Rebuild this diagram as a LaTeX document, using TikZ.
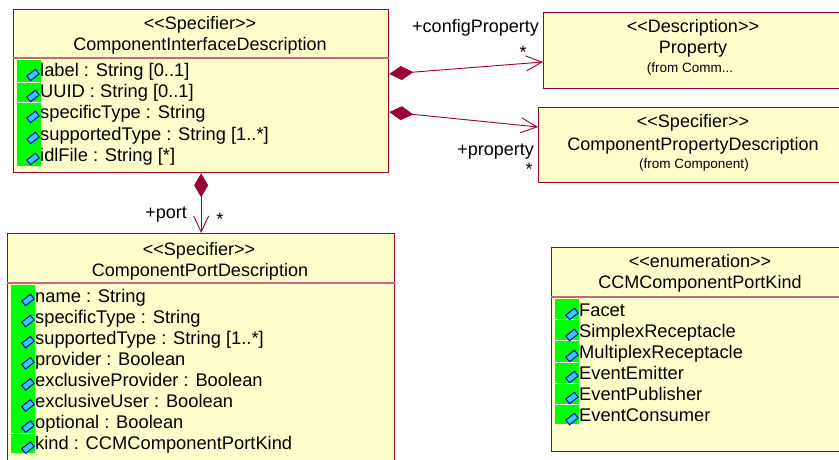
\documentclass[tikz,border=0pt]{standalone}
\usepackage{fontspec}
\setmainfont{Liberation Sans}
\usetikzlibrary{arrows.meta}
\definecolor{umlfill}{RGB}{255,255,204}
\definecolor{umlline}{RGB}{153,0,51}
\definecolor{umlsep}{RGB}{204,102,128}
\definecolor{attrgreen}{RGB}{0,255,0}
\definecolor{iconfill}{RGB}{51,204,255}
\definecolor{iconline}{RGB}{0,0,190}
\newcommand\stereo[1]{<\kern0pt<#1>\kern0pt>}
\tikzset{>=latex}

\begin{document}
\begin{tikzpicture}[x=1pt,y=-1pt,
  cls/.style={draw=umlline, fill=umlfill, line width=1.3pt, anchor=north west, inner sep=0pt},
  sepline/.style={draw=umlsep, line width=1.3pt},
  gap/.style={draw=white, line width=0.8pt},
  head/.style={font=\fontsize{18}{21}\selectfont, anchor=base, inner sep=0pt},
  from/.style={font=\fontsize{13.5}{15}\selectfont, anchor=base, inner sep=0pt},
  attr/.style={font=\fontsize{18.3}{21}\selectfont, anchor=base west, inner sep=0pt},
  icon/.style={draw=iconline, fill=iconfill, line width=1pt, minimum width=11pt, minimum height=6pt, inner sep=0pt, rotate=38},
  role/.style={font=\fontsize{18}{21}\selectfont, inner sep=0pt},
  comp/.style={draw=umlline, line width=0.9pt,
    {Diamond[length=24pt,width=14pt,sep=0pt]}-{Straight Barb[length=16pt,width=15pt,line width=0.9pt]}},
]
  \useasboundingbox (0,0) rectangle (839,460);
  \clip (0,0) rectangle (839,460);

  % classes
  \node[cls, minimum width=375pt, minimum height=163pt] (cid) at (13,9) {};
  \node[cls, minimum width=310pt, minimum height=76pt] (prop) at (543,12) {};
  \node[cls, minimum width=315pt, minimum height=75pt] (cpd) at (538,107) {};
  \node[cls, minimum width=387pt, minimum height=240pt] (port) at (7,233) {};
  \node[cls, minimum width=300pt, minimum height=204pt] (kind) at (551,247) {};
  \draw[sepline] ([yshift=-49pt]cid.north west) -- ([yshift=-49pt]cid.north east);
  \draw[sepline] ([yshift=-50pt]port.north west) -- ([yshift=-50pt]port.north east);
  \draw[sepline] ([yshift=-50pt]kind.north west) -- ([yshift=-50pt]kind.north east);

  % headers
  \node[head] (cid-st) at (200,30) {\stereo{Specifier}};
  \node[head] (cid-nm) at (200,51) {ComponentInterfaceDescription};
  \node[head] (prop-st) at (693,33) {\stereo{Description}};
  \node[head] (prop-nm) at (693,54) {Property};
  \node[from] (prop-fr) at (690,73) {(from Comm...};
  \node[head] (cpd-st) at (693,128) {\stereo{Specifier}};
  \node[head] (cpd-nm) at (693,150) {ComponentPropertyDescription};
  \node[from] (cpd-fr) at (694,168) {(from Component)};
  \node[head] (port-st) at (199,255) {\stereo{Specifier}};
  \node[head] (port-nm) at (200,276) {ComponentPortDescription};
  \node[head] (kind-st) at (700,267) {\stereo{enumeration}};
  \node[head] (kind-nm) at (700,288) {CCMComponentPortKind};

  % attribute strips
  \fill[attrgreen] (17,60) rectangle (41,166);
  \draw[gap] (17,82) -- (41,82) (17,102) -- (41,102);
  \fill[attrgreen] (11,285) rectangle (35,453);
  \draw[gap] (11,433) -- (35,433);
  \fill[attrgreen] (555,299) rectangle (579,424);
  \draw[gap] (555,319) -- (579,319) (555,340) -- (579,340) (555,362) -- (579,362)
    (555,383) -- (579,383) (555,404) -- (579,404);

  % attributes
  \foreach \t [count=\i from 0] in {{label : String [0..1]}, {UUID : String [0..1]},
      {specificType : String}, {supportedType : String [1..*]}, {idlFile : String [*]}} {
    \node[attr] (cid-\i) at (40,77+21*\i) {\t};
    \node[icon] (cid-i\i) at ([xshift=-7pt,yshift=2pt]cid-\i.base west) {};
  }
  \foreach \t [count=\i from 0] in {{name : String}, {specificType : String},
      {supportedType : String [1..*]}, {provider : Boolean}, {exclusiveProvider : Boolean},
      {exclusiveUser : Boolean}, {optional : Boolean}, {kind : CCMComponentPortKind}} {
    \node[attr] (port-\i) at (35,302+21.1*\i) {\t};
    \node[icon] (port-i\i) at ([xshift=-7pt,yshift=2pt]port-\i.base west) {};
  }
  \foreach \t [count=\i from 0] in {Facet, SimplexReceptacle, MultiplexReceptacle,
      EventEmitter, EventPublisher, EventConsumer} {
    \node[attr] (kind-\i) at (579,316+21*\i) {\t};
    \node[icon] (kind-i\i) at ([xshift=-7pt,yshift=2pt]kind-\i.base west) {};
  }

  % compositions
  \draw[comp] ([yshift=-65pt]cid.north east) -- ([yshift=-50pt]prop.north west);
  \draw[comp] ([yshift=-103pt]cid.north east) -- ([yshift=-20pt]cpd.north west);
  \draw[comp] (cid.south) -- (port.north);
  \node[role, anchor=base east] (r-conf) at (539,33) {+configProperty};
  \node[role, anchor=base] (m-conf) at (523,58.5) {*};
  \node[role, anchor=base east] (r-prop) at (534,155) {+property};
  \node[role, anchor=base] (m-prop) at (529,175.5) {*};
  \node[role, anchor=base east] (r-port) at (187,218) {+port};
  \node[role, anchor=base] (m-port) at (220,225.5) {*};
\end{tikzpicture}
\end{document}
